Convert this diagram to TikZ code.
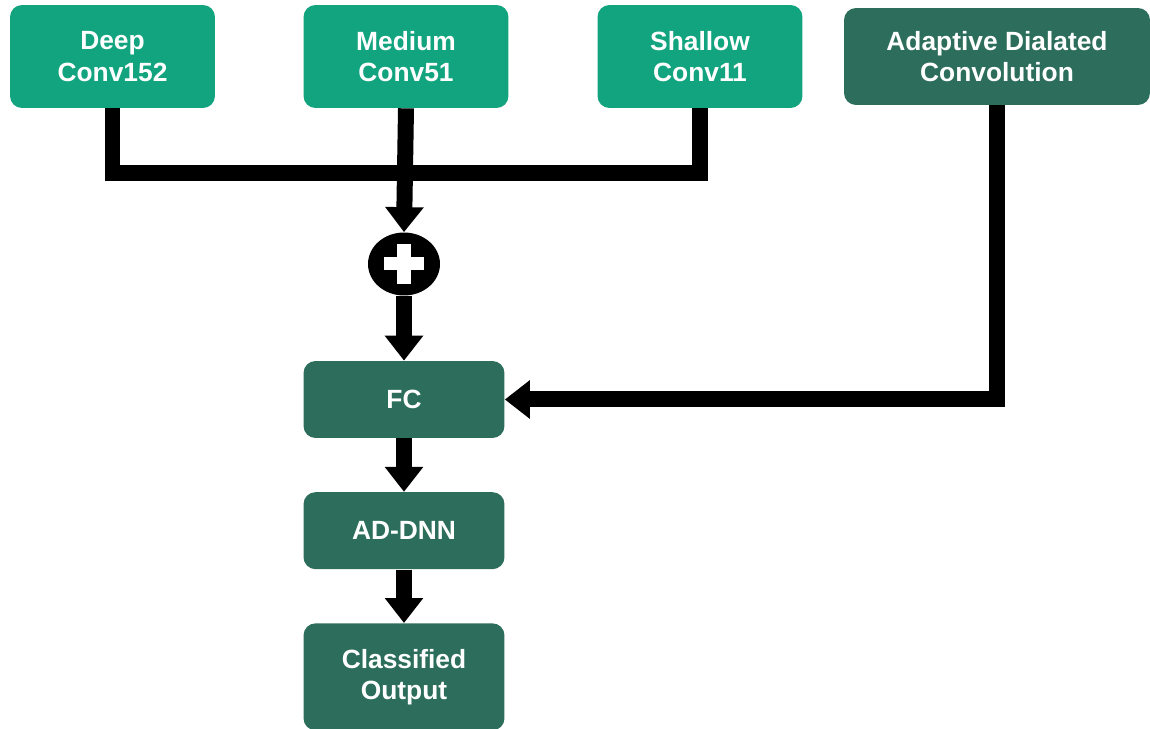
\documentclass[tikz,border=0pt]{standalone}
\usepackage{fontspec}
\setmainfont{Liberation Sans}
\usepackage{xcolor}
\usetikzlibrary{shapes.geometric, arrows.meta, positioning, calc}
\definecolor{lightgreen}{HTML}{12A47F}
\definecolor{darkgreen}{HTML}{2C6E5B}

\begin{document}
\begin{tikzpicture}[
	% one unit is one pixel of the reference
	x=0.02cm, y=-0.02cm,
	node distance=1.07cm
	]
	\tikzset{
		convbox/.style={rectangle, fill=lightgreen, text=white, rounded corners=0.24cm, minimum width=4.1cm, minimum height=2.06cm, align=center, font=\fontsize{15}{17.8}\selectfont\bfseries},
		darkbox/.style={convbox, fill=darkgreen, minimum width=4.02cm, minimum height=1.54cm},
		sum/.style={ellipse, fill=black, inner sep=0pt, minimum width=1.44cm, minimum height=1.26cm},
		pipe/.style={line width=0.32cm, line join=miter},
		line/.style={pipe, -{Triangle[length=0.5cm, width=0.74cm]}}
	}
	\useasboundingbox (0,0) rectangle (1150,729);
	
	% === NODES ===
	
	\node[convbox] (deep) at (112.5,56.5) {Deep\\Conv152};
	\node[convbox] (medium) at (406,56.5) {Medium\\Conv51};
	\node[convbox] (shallow) at (700,56.5) {Shallow\\Conv11};
	\node[darkbox, minimum width=6.12cm, minimum height=1.94cm] (adc) at (997,56.5) {Adaptive Dialated\\Convolution};
	\node[sum] (sum) at (404,264) {};
	\node[darkbox] (fc) at (404,399.5) {FC};
	\node[darkbox, below=of fc] (addnn) {AD-DNN};
	\node[darkbox, minimum height=2.14cm, below=of addnn] (output) {Classified\\Output};
	\coordinate (merge) at (700,173);
	
	% === CONNECTIONS ===
	
	\draw[pipe] (deep.south) |- (merge) -- (shallow.south);
	\draw[line] (medium.south) -- (sum.north);
	\draw[line] (sum.south) -- (fc.north);
	\draw[line] (adc.south) |- (fc.east);
	\draw[line] (fc.south) -- (addnn.north);
	\draw[line] (addnn.south) -- (output.north);
	
	% plus sign
	\draw[white, line width=0.26cm] ($(sum.center)+(-20,0)$) -- ($(sum.center)+(20,0)$);
	\draw[white, line width=0.27cm] ($(sum.center)+(0,-20)$) -- ($(sum.center)+(0,20)$);
\end{tikzpicture}
\end{document}
